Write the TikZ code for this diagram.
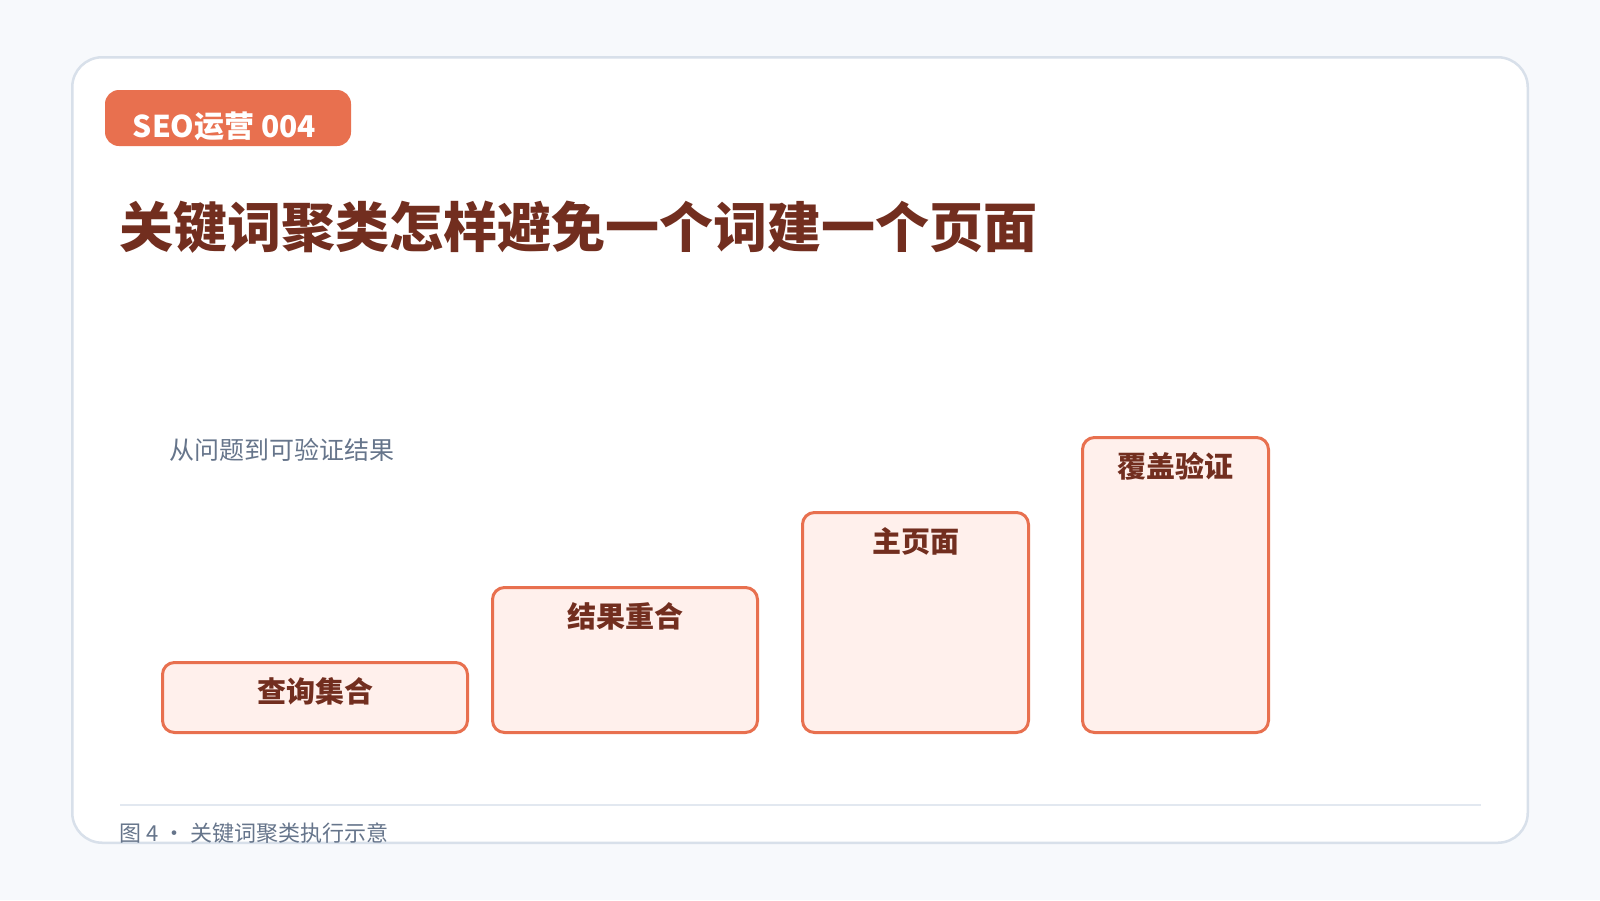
\documentclass[tikz,border=0pt]{standalone}
\usepackage{fontspec}
\setmainfont{Noto Sans CJK SC}
\usetikzlibrary{positioning}
\definecolor{pagebg}{HTML}{F7F9FC}
\definecolor{cardline}{HTML}{D8E0EA}
\definecolor{accent}{HTML}{E8704F}
\definecolor{darkred}{HTML}{722E1F}
\definecolor{barfill}{HTML}{FFF0EC}
\definecolor{mutedtext}{HTML}{66758B}
\definecolor{ruleline}{HTML}{E2E8F0}

\begin{document}
\begin{tikzpicture}[x=1pt,y=-1pt,
    card/.style={draw=cardline, line width=2.5pt, fill=white, rounded corners=30pt},
    badge/.style={fill=accent, rounded corners=14pt, inner sep=0pt},
    stepbar/.style={draw=accent, line width=3pt, fill=barfill, rounded corners=12pt,
                    inner sep=0pt, outer sep=0pt},
    barlabel/.style={text=darkred, font=\fontsize{29}{34}\selectfont\bfseries, inner sep=0pt}]
    % Page and card
    \fill[pagebg] (0,0) rectangle (1600,900);
    \useasboundingbox (0,0) rectangle (1600,900);
    \draw[card] (72.25,57.25) rectangle (1527.75,842.75);

    % Tag and title
    \node[badge, minimum width=246pt, minimum height=56pt] (tag) at (228,118) {};
    \node[text=white, font=\fontsize{30}{36}\selectfont\bfseries, inner sep=0pt]
        (tagtext) at (224.5,126) {SEO运营 004};
    \node[anchor=west, text=darkred, font=\fontsize{54}{64}\selectfont\bfseries, inner sep=0pt]
        (title) at (119,227) {关键词聚类怎样避免一个词建一个页面};
    \node[anchor=west, text=mutedtext, font=\fontsize{25}{30}\selectfont, inner sep=0pt]
        (subtitle) at (169,450) {从问题到可验证结果};

    % Rising steps
    \foreach \n/\cx/\w/\h/\t in {q/315/305/70/查询集合, r/625/265/145/结果重合,
                                  m/915.5/226/220/主页面, v/1175.5/186/295/覆盖验证} {
        \node[stepbar, minimum width=\w pt, minimum height=\h pt, anchor=south]
            (\n) at (\cx,732.5) {};
        \node[barlabel] (\n-lab) at ([yshift=-28.5pt]\n.north) {\t};
    }

    % Caption
    \coordinate (rule-a) at (120,805);
    \coordinate (rule-b) at (1481,805);
    \draw[ruleline, line width=2pt] (rule-a) -- (rule-b);
    \node[anchor=west, text=mutedtext, font=\fontsize{22}{26}\selectfont, inner sep=0pt]
        (caption) at (119,833) {图 4 · 关键词聚类执行示意};
\end{tikzpicture}
\end{document}
